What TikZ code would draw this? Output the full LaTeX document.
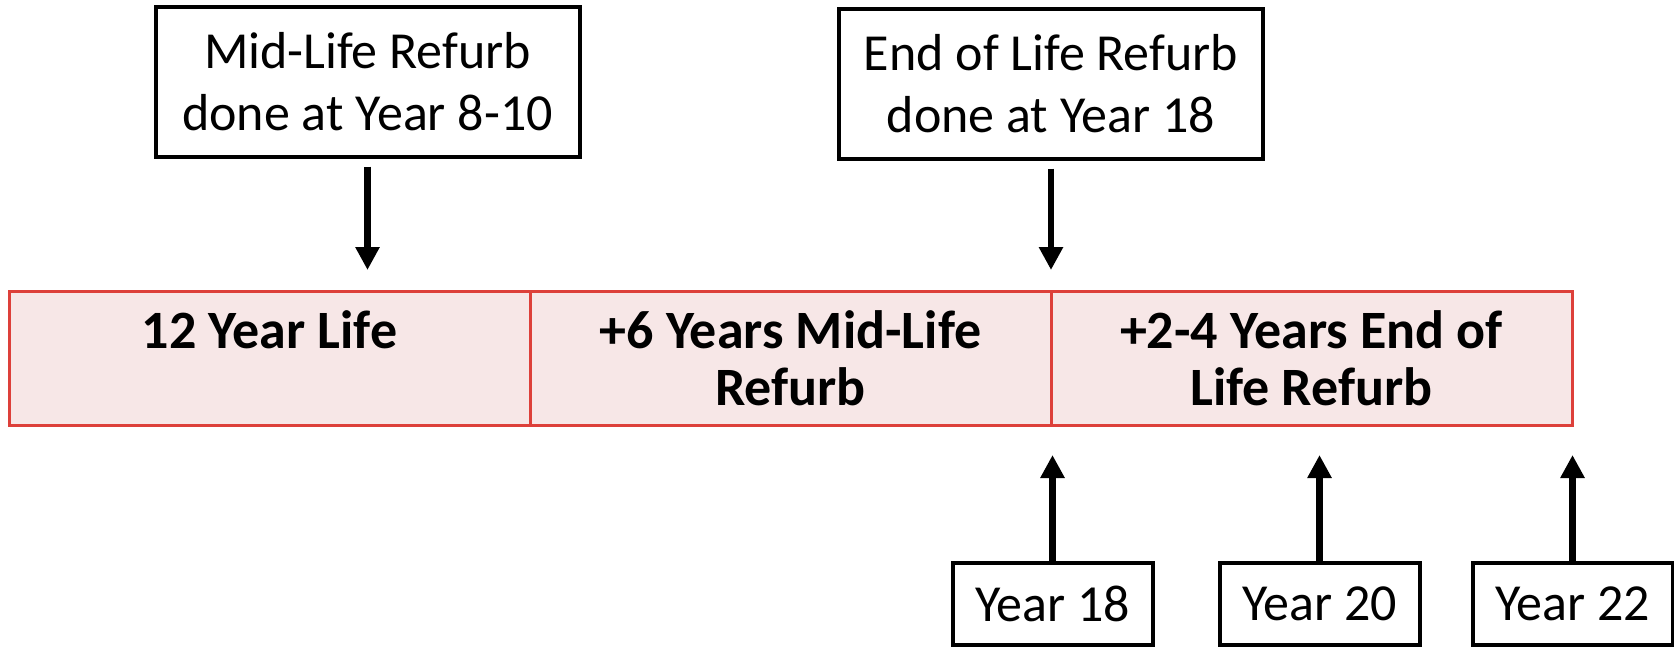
\documentclass[tikz,border=0pt]{standalone}
\usepackage{fontspec}
\setmainfont{Carlito}
\usetikzlibrary{arrows.meta, positioning}
\definecolor{refurbRed}{RGB}{221,64,58}
\definecolor{refurbPink}{RGB}{247,231,231}

\begin{document}
\begin{tikzpicture}[
  x=0.5pt, y=-0.5pt,
  cell/.style={
    rectangle, draw=refurbRed, fill=refurbPink, line width=1.5pt,
    minimum width=260.5pt, minimum height=67pt,
    inner sep=0pt, outer sep=0pt,
    font=\fontsize{27}{28.5}\selectfont\bfseries, align=center
  },
  note/.style={
    rectangle, draw, line width=2pt, fill=white,
    minimum width=212pt, minimum height=74.5pt, inner sep=0pt,
    font=\fontsize{26}{31}\selectfont, align=center
  },
  yearbox/.style={note, minimum width=100pt, minimum height=41pt},
  arr/.style={-{Triangle[length=11.5pt, width=11.5pt]}, line width=3.3pt}
]
  \useasboundingbox (0,0) rectangle (1674,647);

  % timeline bar
  \node[cell] (life) at (269.5,358) {12 Year Life\\\phantom{Refurb}};
  \node[cell, right=0pt of life] (midlife) {+6 Years Mid-Life\\Refurb};
  \node[cell, right=0pt of midlife] (endlife) {+2-4 Years End of\\Life Refurb};

  % refurb notes
  \node[note] (midnote) at (367.5,82) {Mid-Life Refurb\\done at Year 8-10};
  \node[note] (endnote) at (1051,84) {End of Life Refurb\\done at Year 18};

  \draw[arr] ([yshift=-4pt]midnote.south) -- ([yshift=10.5pt]midnote.south |- life.north);
  \draw[arr] ([yshift=-4pt]endnote.south) -- ([yshift=10.5pt]endnote.south |- endlife.north);

  % year markers
  \node[yearbox] (y18) at (1052.5,604) {Year 18};
  \node[yearbox] (y20) at (1319.5,604) {Year 20};
  \node[yearbox] (y22) at (1572.5,604) {Year 22};

  \draw[arr] (y18.north) -- ([yshift=-15pt]y18.north |- endlife.south);
  \draw[arr] (y20.north) -- ([yshift=-15pt]y20.north |- endlife.south);
  \draw[arr] (y22.north) -- ([yshift=-15pt]y22.north |- endlife.south);
\end{tikzpicture}
\end{document}
